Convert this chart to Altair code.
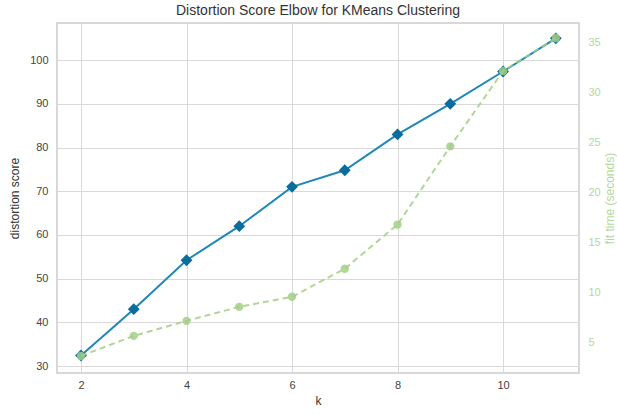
import altair as alt
import pandas as pd

k_values = [2, 3, 4, 5, 6, 7, 8, 9, 10, 11]
distortion = [32.4, 43.0, 54.2, 62.0, 71.0, 74.8, 83.0, 90.0, 97.4, 105.0]
fit_time = [3.7, 5.7, 7.2, 8.6, 9.6, 12.4, 16.8, 24.6, 32.1, 35.4]

df = pd.DataFrame({"k": k_values, "distortion": distortion, "fit_time": fit_time})

FONT = "Liberation Sans"
BLUE_LINE = "#1f88b7"
BLUE_MARK = "#0b6d9e"
GREEN = "#a3cf86"

x = alt.X("k:Q", title="k",
          scale=alt.Scale(domain=[1.545, 11.44], nice=False, zero=False),
          axis=alt.Axis(values=[2, 4, 6, 8, 10], grid=True, gridColor="#d9d9d9",
                        domain=False, ticks=False, labelPadding=6, titlePadding=5,
                        labelColor="#444444", titleColor="#333333",
                        labelFontSize=11, titleFontSize=12, titleFontWeight="normal"))

y_left = alt.Y("distortion:Q", title="distortion score",
               scale=alt.Scale(domain=[28.4, 108.5], nice=False, zero=False),
               axis=alt.Axis(values=[30, 40, 50, 60, 70, 80, 90, 100], grid=True,
                             gridColor="#d9d9d9", domain=False, ticks=False,
                             labelPadding=9, titlePadding=8,
                             labelColor="#444444", titleColor="#333333",
                             labelFontSize=11, titleFontSize=12, titleFontWeight="normal"))

y_right = alt.Y("fit_time:Q", title="fit time (seconds)",
                scale=alt.Scale(domain=[2.0, 36.9], nice=False, zero=False),
                axis=alt.Axis(orient="right", values=[5, 10, 15, 20, 25, 30, 35], grid=False,
                              domain=False, ticks=False, labelPadding=9,
                              titleAngle=270, titleX=30, titleY=175,
                              titleAlign="center", titleBaseline="middle",
                              labelColor="#b5d79c", titleColor="#b5d79c",
                              labelFontSize=11, titleFontSize=12, titleFontWeight="normal"))

base = alt.Chart(df)

blue_line = base.mark_line(color=BLUE_LINE, strokeWidth=2).encode(x=x, y=y_left)
blue_pts = base.mark_point(shape="diamond", filled=True, color=BLUE_MARK, size=140, opacity=1).encode(x=x, y=y_left)
left = alt.layer(blue_line, blue_pts)

green_line = base.mark_line(color=GREEN, strokeWidth=2, strokeDash=[6, 4], opacity=0.85).encode(x=x, y=y_right)
green_pts = base.mark_point(shape="circle", filled=True, color=GREEN, size=70, opacity=0.85).encode(x=x, y=y_right)
right = alt.layer(green_line, green_pts)

chart = alt.layer(left, right).resolve_scale(y="independent").properties(
    width=522, height=350,
    autosize=alt.AutoSizeParams(type="none"),
    padding={"left": 57, "top": 23, "right": 38, "bottom": 42},
    title=alt.TitleParams("Distortion Score Elbow for KMeans Clustering", fontSize=14,
                          font=FONT, fontWeight="normal", color="#333333", offset=5),
).configure(font=FONT).configure_view(stroke="#cccccc", strokeWidth=1.5)

chart.save("out.html", embed_options={"renderer": "svg", "actions": False})
